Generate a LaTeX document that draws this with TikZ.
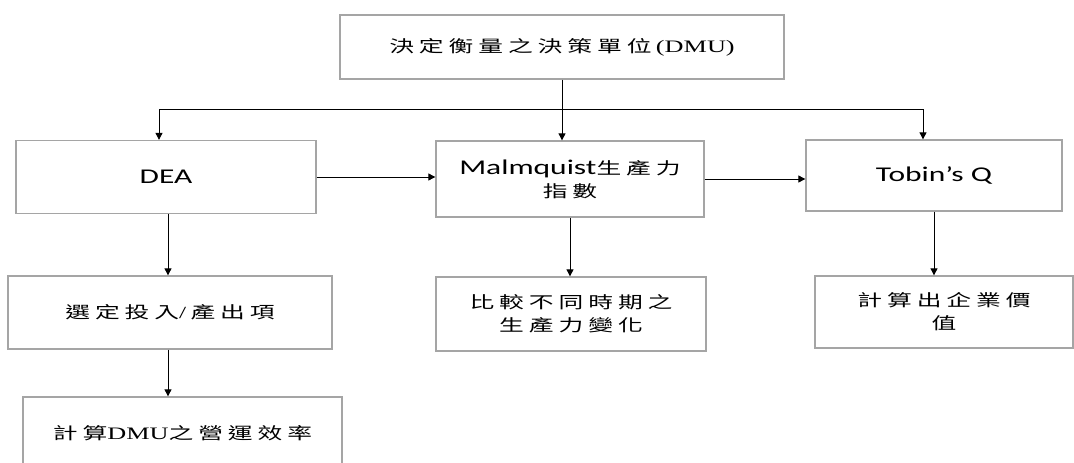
\documentclass[tikz,border=0pt]{standalone}
\usepackage{fontspec}
\usepackage{graphicx}
\setmainfont{Liberation Serif}
\newfontfamily\cjk[LetterSpace=20]{Noto Sans CJK TC}
\newfontfamily\lat{Carlito}
\newfontfamily\dmu{Liberation Serif}
\usetikzlibrary{arrows.meta}
\newcommand{\sx}[1]{\scalebox{1.5}[1]{#1}}
\newcommand{\lt}[1]{{\lat\fontsize{21}{23}\selectfont #1}}
\definecolor{boxgray}{RGB}{165,165,165}
\begin{document}
\begin{tikzpicture}[x=1pt,y=-1pt,
  box/.style={draw=boxgray,line width=1.3pt,inner sep=0pt,align=center,
    font=\fontsize{16.5}{23}\selectfont\cjk},
  arr/.style={-{Triangle[length=7pt,width=7pt]},line width=0.9pt},
  ln/.style={line width=0.9pt}]
\useasboundingbox (0,0) rectangle (1074,463);
\clip (0,0) rectangle (1074,463);

\node[box,minimum width=444pt,minimum height=64pt] (top) at (562,47)
  {\sx{決定衡量之決策單位{\dmu\fontsize{17.5}{23}\selectfont\,(DMU)}}};
\node[box,minimum width=300pt,minimum height=73pt] (dea) at (166,177)
  {\sx{\lt{DEA}}};
\node[box,minimum width=268pt,minimum height=76pt] (malm) at (570,179)
  {\sx{\lt{Malmquist}生產力}\\\sx{指數}};
\node[box,minimum width=256pt,minimum height=71pt] (tobin) at (934,175.5)
  {\sx{\lt{Tobin’s Q}}};
\node[box,minimum width=324pt,minimum height=73pt] (sel) at (170,312.5)
  {\sx{選定投入{\dmu\fontsize{17}{23}\selectfont /\,}產出項}};
\node[box,minimum width=319pt,minimum height=73pt] (calc) at (182.5,433.5)
  {\sx{計算{\dmu\fontsize{17.5}{23}\selectfont DMU}之營運效率}};
\node[box,minimum width=270pt,minimum height=74pt] (comp) at (571,314)
  {\sx{比較不同時期之}\\\sx{生產力變化}};
\node[box,minimum width=258pt,minimum height=72pt] (value) at (944,312)
  {\sx{計算出企業價}\\\sx{值}};

\coordinate (j) at (562,109);
\coordinate (bl) at (159,109);
\coordinate (br) at (923,109);
\draw[ln] (top.south) -- (j);
\draw[ln] (bl) -- (br);
\draw[arr] (bl) -- (bl |- dea.north);
\draw[arr] (j) -- (j |- malm.north);
\draw[arr] (br) -- (br |- tobin.north);

\draw[arr] (dea.east) -- (dea.east -| malm.west);
\draw[arr] (malm.east) -- (malm.east -| tobin.west);

\draw[arr] ([xshift=2pt]dea.south) -- ([xshift=2pt]dea.south |- sel.north);
\draw[arr] ([xshift=-2pt]sel.south) -- ([xshift=-2pt]sel.south |- calc.north);
\draw[arr] (malm.south) -- (malm.south |- comp.north);
\draw[arr] (tobin.south) -- (tobin.south |- value.north);
\end{tikzpicture}
\end{document}
